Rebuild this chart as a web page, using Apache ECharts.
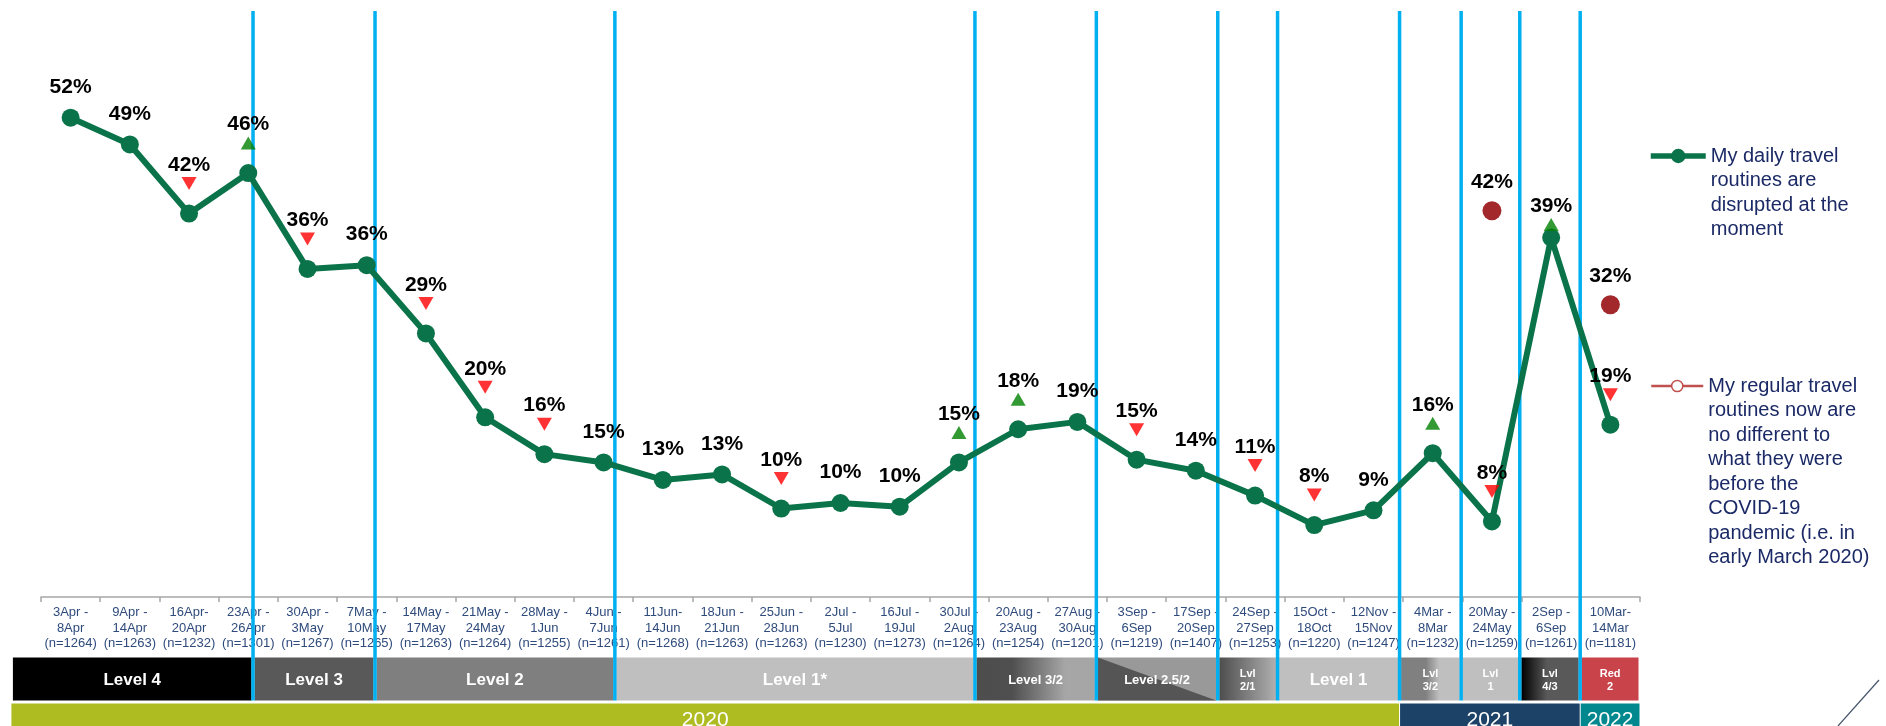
<!DOCTYPE html>
<html>
<head>
<meta charset="utf-8">
<script src="https://cdn.jsdelivr.net/npm/echarts@6/dist/echarts.min.js"></script>
<style>
  html, body { margin: 0; padding: 0; background: #fff; }
  #chart { width: 1886px; height: 726px; }
</style>
</head>
<body>
<div id="chart"></div>
<script>
// ---------------- DATA ----------------
const periodStart = ['3Apr -','9Apr -','16Apr-','23Apr -','30Apr -','7May -','14May -','21May -','28May -','4Jun -',
  '11Jun-','18Jun -','25Jun -','2Jul -','16Jul -','30Jul -','20Aug -','27Aug -','3Sep -','17Sep -',
  '24Sep -','15Oct -','12Nov -','4Mar -','20May -','2Sep -','10Mar-'];
const periodEnd = ['8Apr','14Apr','20Apr','26Apr','3May','10May','17May','24May','1Jun','7Jun',
  '14Jun','21Jun','28Jun','5Jul','19Jul','2Aug','23Aug','30Aug','6Sep','20Sep',
  '27Sep','18Oct','15Nov','8Mar','24May','6Sep','14Mar'];
const sampleN = [1264,1263,1232,1301,1267,1265,1263,1264,1255,1261,
  1268,1263,1263,1230,1273,1264,1254,1201,1219,1407,
  1253,1220,1247,1232,1259,1261,1181];

const seriesDisruptedName = 'My daily travel routines are disrupted at the moment';
const disrupted = [52.0,49.1,41.6,46.0,35.6,36.0,28.6,19.5,15.5,14.6,
  12.7,13.3,9.6,10.2,9.8,14.6,18.2,19.0,14.9,13.7,
  11.0,7.8,9.4,15.6,8.2,39.0,18.7];
// significance vs previous wave: 'up', 'down' or ''
const significance = ['','','down','up','down','','down','down','down','',
  '','','down','','','up','up','','down','',
  'down','down','','up','down','up','down'];

const seriesNoDiffName = 'My regular travel routines now are no different to what they were before the COVID-19 pandemic (i.e. in early March 2020)';
const noDifferent = [null,null,null,null,null,null,null,null,null,null,
  null,null,null,null,null,null,null,null,null,null,
  null,null,null,null,41.9,null,31.7];

const legendDisruptedLines = ['My daily travel','routines are','disrupted at the','moment'];
const legendNoDiffLines = ['My regular travel','routines now are','no different to','what they were','before the','COVID-19','pandemic (i.e. in','early March 2020)'];

// alert level periods (boundaries in category units) and labels
const levelBounds = [-0.5, 3.58, 5.64, 9.69, 15.77, 17.82, 19.87, 20.88, 22.94, 23.98, 24.97, 25.99, 27.0];
const levelNames = ['Level 4','Level 3','Level 2','Level 1*','Level 3/2','Level 2.5/2','Lvl\n2/1','Level 1','Lvl\n3/2','Lvl\n1','Lvl\n4/3','Red\n2'];
const yearBounds = [-0.5, 22.94, 25.99, 27.0];
const yearNames = ['2020','2021','2022'];

// ---------------- STYLE ----------------
const FONT = '"Liberation Sans", Arial, Helvetica, sans-serif';
const GREEN = '#0b7349';
const DOTRED = '#a3282b';
const LEGRED = '#c0504d';
const NAVY = '#1b2a66';
const AXISBLUE = '#2f4b7c';
const VLINE = '#00b0f0';
const LEGEND_LH = 24.5;

function hgrad(stops) {
  return new echarts.graphic.LinearGradient(0, 0, 1, 0, stops.map(s => ({offset: s[0], color: s[1]})));
}
const levelFills = [
  '#000000', '#595959', '#7f7f7f', '#bfbfbf',
  hgrad([[0,'#4d4d4d'],[0.3,'#4f4f4f'],[0.75,'#a6a6a6'],[1,'#a6a6a6']]),
  'diag',
  hgrad([[0,'#4d4d4d'],[1,'#b0b0b0']]),
  '#bfbfbf',
  hgrad([[0,'#808080'],[0.42,'#808080'],[0.65,'#bfbfbf'],[1,'#bfbfbf']]),
  '#bfbfbf',
  hgrad([[0,'#000000'],[0.45,'#595959'],[1,'#595959']]),
  '#c8434a'
];
const levelFont = [17,17,17,17,13,13,11,17,11,11,11,11];
const yearFills = ['#aebc22', '#1c4268', '#00888e'];

const LEVEL_TOP = 657.5, LEVEL_BOTTOM = 700.5;
const YEAR_TOP = 703.5, YEAR_BOTTOM = 745;
const VLINE_TOP = 11, VLINE_BOTTOM = 700.5;

// per-point placement of value label / significance arrow (pixels above the point)
const LABEL_DIST_PLAIN = 11, LABEL_DIST_ARROW = 29, ARROW_OFFSET = -30;
const placementOverride = { 25: { label: 12, arrow: -13 } };

// ---------------- BUILD ----------------
const categories = periodStart.map((s, i) => s + '\n' + periodEnd[i] + '\n(n=' + sampleN[i] + ')');

const lineData = disrupted.map((v, i) => {
  const o = placementOverride[i];
  return {
    value: v,
    label: { distance: o ? o.label : (significance[i] ? LABEL_DIST_ARROW : LABEL_DIST_PLAIN) }
  };
});
function arrowData(kind) {
  const out = [];
  significance.forEach((s, i) => {
    if (s === kind) {
      const o = placementOverride[i];
      out.push({ value: [i, disrupted[i]], symbolOffset: [0, o ? o.arrow : ARROW_OFFSET] });
    }
  });
  return out;
}

// legend text: pad with leading blank lines so the first line sits level with the icon
function legendText(lines) {
  return '\n'.repeat(lines.length - 1) + lines.join('\n');
}

const chart = echarts.init(document.getElementById('chart'), null, { renderer: 'canvas' });

function renderLevel(params, api) {
  const i = params.dataIndex;
  const x0 = api.coord([levelBounds[i], 0])[0] + 1.5;
  const x1 = api.coord([levelBounds[i + 1], 0])[0] - 1.5;
  const children = [];
  const fill = levelFills[i];
  if (fill === 'diag') {
    children.push({ type: 'rect', shape: { x: x0, y: LEVEL_TOP, width: x1 - x0, height: LEVEL_BOTTOM - LEVEL_TOP }, style: { fill: '#999999' } });
    children.push({ type: 'polygon', shape: { points: [[x0, LEVEL_TOP], [x1, LEVEL_BOTTOM], [x0, LEVEL_BOTTOM]] }, style: { fill: '#555555' } });
  } else {
    children.push({ type: 'rect', shape: { x: x0, y: LEVEL_TOP, width: x1 - x0, height: LEVEL_BOTTOM - LEVEL_TOP }, style: { fill: fill } });
  }
  const fs = levelFont[i];
  children.push({
    type: 'text',
    style: {
      text: levelNames[i], x: (x0 + x1) / 2, y: (LEVEL_TOP + LEVEL_BOTTOM) / 2 + 1,
      align: 'center', verticalAlign: 'middle',
      fill: '#ffffff', font: 'bold ' + fs + 'px ' + FONT, lineHeight: fs + 2
    }
  });
  return { type: 'group', children: children };
}

function renderYear(params, api) {
  const i = params.dataIndex;
  const x0 = api.coord([yearBounds[i], 0])[0] + (i === 0 ? 0 : 0.5);
  const x1 = api.coord([yearBounds[i + 1], 0])[0] - 0.5;
  return {
    type: 'group',
    children: [
      { type: 'rect', shape: { x: x0, y: YEAR_TOP, width: x1 - x0, height: YEAR_BOTTOM - YEAR_TOP }, style: { fill: yearFills[i] } },
      { type: 'text', style: { text: yearNames[i], x: (x0 + x1) / 2, y: 720, align: 'center', verticalAlign: 'middle', fill: '#ffffff', font: '21px ' + FONT } }
    ]
  };
}

function renderVLine(params, api) {
  const b = levelBounds[params.dataIndex + 1];
  const x = api.coord([b, 0])[0];
  return {
    type: 'rect',
    shape: { x: x - 1.75, y: VLINE_TOP, width: 3.5, height: VLINE_BOTTOM - VLINE_TOP },
    style: { fill: VLINE }
  };
}

const option = {
  backgroundColor: '#ffffff',
  animation: false,
  textStyle: { fontFamily: FONT },
  grid: [
    { left: 41, right: 246, top: 44, bottom: 129 },
    { left: 11.4, right: 246, top: 0, bottom: 0 }
  ],
  xAxis: [
    {
      type: 'category', gridIndex: 0, data: categories, boundaryGap: true,
      axisLine: { lineStyle: { color: '#a6a6a6', width: 1.5 } },
      axisTick: { show: true, interval: 0, length: 5, lineStyle: { color: '#a6a6a6', width: 1.5 } },
      axisLabel: { interval: 0, fontSize: 13, lineHeight: 15.5, color: AXISBLUE, margin: 8, fontFamily: FONT }
    },
    { type: 'value', gridIndex: 1, min: -0.5, max: 27, show: false }
  ],
  yAxis: [
    { type: 'value', gridIndex: 0, min: 0, max: 60, show: false, splitLine: { show: false } },
    { type: 'value', gridIndex: 1, min: 0, max: 726, inverse: true, show: false, splitLine: { show: false } }
  ],
  legend: [
    {
      data: [{ name: seriesDisruptedName, lineStyle: { color: GREEN, width: 5.5 }, itemStyle: { color: GREEN } }],
      left: 1648, top: 156 - (2 * legendDisruptedLines.length - 1) * LEGEND_LH / 2, padding: 0, orient: 'vertical',
      itemWidth: 55, itemHeight: 18, itemGap: 5, selectedMode: false,
      formatter: () => legendText(legendDisruptedLines),
      textStyle: { fontSize: 20, lineHeight: LEGEND_LH, color: NAVY, fontFamily: FONT }
    },
    {
      data: [{ name: seriesNoDiffName, itemStyle: { color: '#ffffff', borderColor: LEGRED, borderWidth: 1.5 }, lineStyle: { color: LEGRED, width: 2.5 } }],
      left: 1650, top: 386 - (2 * legendNoDiffLines.length - 1) * LEGEND_LH / 2, padding: 0, orient: 'vertical',
      itemWidth: 52, itemHeight: 14, itemGap: 5, selectedMode: false,
      formatter: () => legendText(legendNoDiffLines),
      textStyle: { fontSize: 20, lineHeight: LEGEND_LH, color: NAVY, fontFamily: FONT }
    }
  ],
  series: [
    {
      type: 'custom', name: 'levels', xAxisIndex: 1, yAxisIndex: 1, z: 1, silent: true,
      data: levelNames.map((n, i) => [i, 0]), renderItem: renderLevel, clip: false
    },
    {
      type: 'custom', name: 'years', xAxisIndex: 1, yAxisIndex: 1, z: 1, silent: true,
      data: yearNames.map((n, i) => [i, 0]), renderItem: renderYear, clip: false
    },
    {
      type: 'custom', name: 'level changes', xAxisIndex: 1, yAxisIndex: 1, z: 2, silent: true,
      data: levelBounds.slice(1, -1).map((b, i) => [b, 0]), renderItem: renderVLine, clip: false
    },
    {
      type: 'line', name: seriesDisruptedName, xAxisIndex: 0, yAxisIndex: 0, z: 5,
      data: lineData,
      symbol: 'circle', symbolSize: 18, showAllSymbol: true,
      lineStyle: { color: GREEN, width: 6 },
      itemStyle: { color: GREEN },
      label: {
        show: true, position: 'top', color: '#000000', fontSize: 21, fontWeight: 'bold', fontFamily: FONT,
        formatter: p => Math.round(p.value) + '%'
      }
    },
    {
      type: 'line', name: seriesNoDiffName, xAxisIndex: 0, yAxisIndex: 0, z: 5,
      data: noDifferent, connectNulls: false,
      symbol: 'circle', symbolSize: 19, showAllSymbol: true,
      lineStyle: { color: LEGRED, width: 2.5 },
      itemStyle: { color: DOTRED },
      label: {
        show: true, position: 'top', distance: 9, color: '#000000', fontSize: 21, fontWeight: 'bold', fontFamily: FONT,
        formatter: p => Math.round(p.value) + '%'
      }
    },
    {
      type: 'scatter', name: 'sig up', xAxisIndex: 0, yAxisIndex: 0, z: 6,
      data: arrowData('up'), symbol: 'triangle', symbolSize: [15, 13],
      itemStyle: { color: '#008000' }, silent: true
    },
    {
      type: 'scatter', name: 'sig down', xAxisIndex: 0, yAxisIndex: 0, z: 6,
      data: arrowData('down'), symbol: 'triangle', symbolRotate: 180, symbolSize: [15, 13],
      itemStyle: { color: '#ff0000' }, silent: true
    }
  ],
  graphic: [
    { type: 'line', shape: { x1: 1879, y1: 680, x2: 1838, y2: 726 }, style: { stroke: '#44546a', lineWidth: 1.2 }, silent: true }
  ]
};
chart.setOption(option);
</script>
</body>
</html>
